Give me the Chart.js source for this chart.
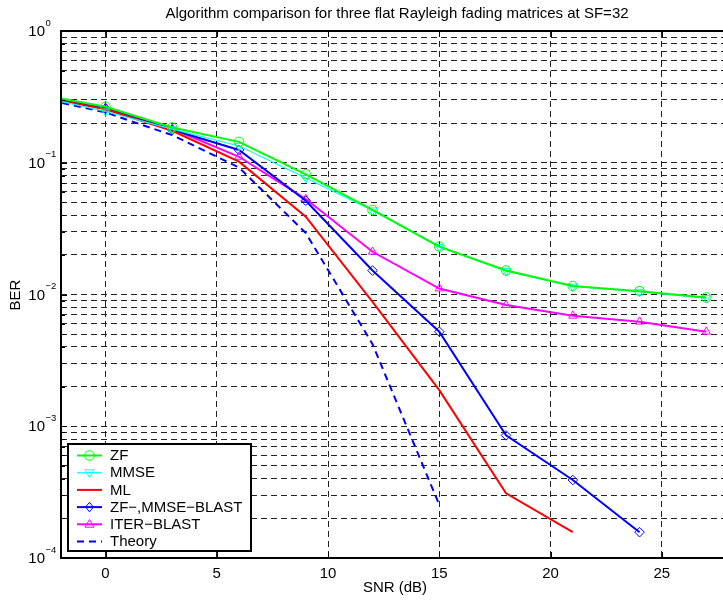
<!DOCTYPE html>
<html><head><meta charset="utf-8">
<script src="https://cdn.jsdelivr.net/npm/chart.js@4.4.0/dist/chart.umd.min.js"></script>
<style>html,body{margin:0;padding:0;background:#fff;overflow:hidden;width:723px;height:602px}canvas{display:block}</style>
</head><body>
<canvas id="c" width="723" height="602"></canvas>
<script>
// ---- data ----
const snr       = [-3, 0, 3, 6, 9, 12, 15, 18, 21, 24, 27];
const berZF     = [0.330, 0.266, 0.185, 0.144, 0.0817, 0.0438, 0.0231, 0.0152, 0.0116, 0.0106, 0.0095];
const berMMSE   = [0.320, 0.245, 0.180, 0.134, 0.0766, 0.0435, 0.0230, 0.0151, 0.0115, 0.0105, 0.0094];
const berML     = [0.318, 0.255, 0.175, 0.102, 0.0390, 0.0088, 0.00188, 0.00031, 0.000157, null, null];
const berBLAST  = [0.320, 0.258, 0.178, 0.125, 0.0515, 0.0152, 0.00522, 0.000853, 0.000391, 0.000157, null];
const berITER   = [0.322, 0.262, 0.181, 0.111, 0.0530, 0.0211, 0.0111, 0.00832, 0.0069, 0.00622, 0.00522];
const berTheory = [0.310, 0.241, 0.162, 0.092, 0.0293, 0.0042, 0.000253, null, null, null, null];
const seriesNames = ['ZF', 'MMSE', 'ML', 'ZF\u2212,MMSE\u2212BLAST', 'ITER\u2212BLAST', 'Theory'];
const xTickValues = [0, 5, 10, 15, 20, 25];
const yDecades = [-4, -3, -2, -1, 0];
const titleText = 'Algorithm comparison for three flat Rayleigh fading matrices at SF=32';
const xTitle = 'SNR (dB)';
const yTitle = 'BER';

const FONT = "'Liberation Sans', Arial, Helvetica, sans-serif";
const pts = arr => snr.map((x, i) => ({x: x, y: arr[i]})).filter(p => p.y !== null);

const yTickVals = [];
for (let d = -4; d < 0; d++) for (let m = 1; m <= 9; m++) yTickVals.push(m * Math.pow(10, d));
yTickVals.push(1);

function ds(label, arr, color, style, extra) {
  return Object.assign({
    label: label, data: pts(arr), borderColor: color, backgroundColor: 'rgba(0,0,0,0)',
    borderWidth: 2, tension: 0, clip: 0,
    pointStyle: style || false, pointRadius: style ? 4.8 : 0, pointBorderWidth: 1,
    pointBorderColor: color, pointBackgroundColor: 'rgba(0,0,0,0)', pointHoverRadius: 0
  }, extra || {});
}

const datasets = [
  ds(seriesNames[0], berZF, '#00ff00', 'circle'),
  ds(seriesNames[1], berMMSE, '#00ffff', 'triangle', {borderWidth: 1.2, pointRotation: 180}),
  ds(seriesNames[2], berML, '#ff0000', null),
  ds(seriesNames[3], berBLAST, '#0000ff', 'rectRot'),
  ds(seriesNames[4], berITER, '#ff00ff', 'triangle'),
  ds(seriesNames[5], berTheory, '#0000ff', null, {borderDash: [7, 5]})
];

function drawMarker(ctx, style, x, y, r, rot) {
  ctx.beginPath();
  if (style === 'circle') {
    ctx.arc(x, y, r, 0, Math.PI * 2);
  } else if (style === 'triangle') {
    const s = rot ? -1 : 1;
    ctx.moveTo(x, y - s * r);
    ctx.lineTo(x + r * 0.95, y + s * r * 0.6);
    ctx.lineTo(x - r * 0.95, y + s * r * 0.6);
    ctx.closePath();
  } else if (style === 'rectRot') {
    ctx.moveTo(x, y - r); ctx.lineTo(x + r * 0.8, y); ctx.lineTo(x, y + r); ctx.lineTo(x - r * 0.8, y); ctx.closePath();
  }
  ctx.stroke();
}

const decor = {
  id: 'decor',
  afterDraw(chart) {
    const ctx = chart.ctx, a = chart.chartArea;
    const xs = chart.scales.x, ys = chart.scales.y;
    ctx.save();
    // inner tick marks
    ctx.strokeStyle = '#000'; ctx.lineWidth = 1; ctx.setLineDash([]);
    xTickValues.forEach(v => {
      const px = Math.round(xs.getPixelForValue(v)) + 0.5;
      ctx.beginPath(); ctx.moveTo(px, a.bottom); ctx.lineTo(px, a.bottom - 6);
      ctx.moveTo(px, a.top); ctx.lineTo(px, a.top + 6); ctx.stroke();
    });
    yTickVals.forEach(v => {
      const py = Math.round(ys.getPixelForValue(v)) + 0.5;
      const len = (Math.abs(Math.log10(v) - Math.round(Math.log10(v))) < 1e-9) ? 6 : 4;
      ctx.beginPath(); ctx.moveTo(a.left, py); ctx.lineTo(a.left + len, py); ctx.stroke();
    });
    // frame (right side lies beyond the visible window)
    ctx.lineWidth = 2;
    ctx.beginPath();
    ctx.moveTo(760, a.top); ctx.lineTo(a.left, a.top); ctx.lineTo(a.left, a.bottom); ctx.lineTo(760, a.bottom);
    ctx.stroke();
    // y tick labels 10^n
    ctx.fillStyle = '#000';
    yDecades.forEach(d => {
      const py = ys.getPixelForValue(Math.pow(10, d));
      ctx.font = '15px ' + FONT; ctx.textAlign = 'right'; ctx.textBaseline = 'middle';
      ctx.fillText('10', 45, py + 1);
      ctx.font = '9.5px ' + FONT; ctx.textAlign = 'left';
      ctx.fillText(d === 0 ? '0' : '\u2212' + Math.abs(d), 45.5, py - 8);
    });
    // title & axis titles
    ctx.font = '15px ' + FONT; ctx.textAlign = 'center'; ctx.textBaseline = 'middle';
    ctx.fillText(titleText, 397, 14);
    ctx.fillText(xTitle, 395, 588);
    ctx.save(); ctx.translate(16, 295); ctx.rotate(-Math.PI / 2); ctx.fillText(yTitle, 0, 0); ctx.restore();
    // legend
    const lx = 68, ly = 444, lw = 183, lh = 107;
    ctx.fillStyle = '#fff'; ctx.fillRect(lx, ly, lw, lh);
    ctx.strokeStyle = '#000'; ctx.lineWidth = 2; ctx.strokeRect(lx, ly, lw, lh);
    chart.data.datasets.forEach((dset, i) => {
      const cy = 455.5 + i * 17.2;
      ctx.strokeStyle = dset.borderColor; ctx.lineWidth = dset.borderWidth;
      ctx.setLineDash(dset.borderDash || []);
      ctx.beginPath(); ctx.moveTo(77, cy); ctx.lineTo(102, cy); ctx.stroke();
      ctx.setLineDash([]);
      if (dset.pointStyle) { ctx.lineWidth = 1; drawMarker(ctx, dset.pointStyle, 89.5, cy, 4.8, dset.pointRotation); }
      ctx.fillStyle = '#000'; ctx.font = '15px ' + FONT; ctx.textAlign = 'left'; ctx.textBaseline = 'middle';
      ctx.fillText(dset.label, 110, cy + 0.5);
    });
    ctx.restore();
  }
};

new Chart(document.getElementById('c'), {
  type: 'line',
  data: {datasets: datasets},
  options: {
    responsive: false, animation: false,
    layout: {autoPadding: false, padding: {top: 31, left: 0, right: 0, bottom: 0}},
    plugins: {legend: {display: false}, tooltip: {enabled: false}, title: {display: false}},
    scales: {
      x: {
        type: 'linear', min: -2, max: 27.75,
        afterBuildTicks: s => { s.ticks = xTickValues.map(v => ({value: v})); },
        afterFit: s => { s.height = 44; s.paddingRight = 0; s.paddingLeft = 0; },
        grid: {color: '#222', lineWidth: 1, drawTicks: false},
        border: {display: false, dash: [6, 4]},
        ticks: {color: '#000', padding: 7, font: {family: FONT, size: 15}, maxRotation: 0, autoSkip: false}
      },
      y: {
        type: 'logarithmic', min: 1e-4, max: 1,
        afterBuildTicks: s => { s.ticks = yTickVals.map(v => ({value: v})); },
        afterFit: s => { s.width = 61; },
        grid: {color: '#222', lineWidth: 1, drawTicks: false},
        border: {display: false, dash: [6, 4]},
        ticks: {callback: () => '', autoSkip: false}
      }
    }
  },
  plugins: [decor]
});
</script>
</body></html>
